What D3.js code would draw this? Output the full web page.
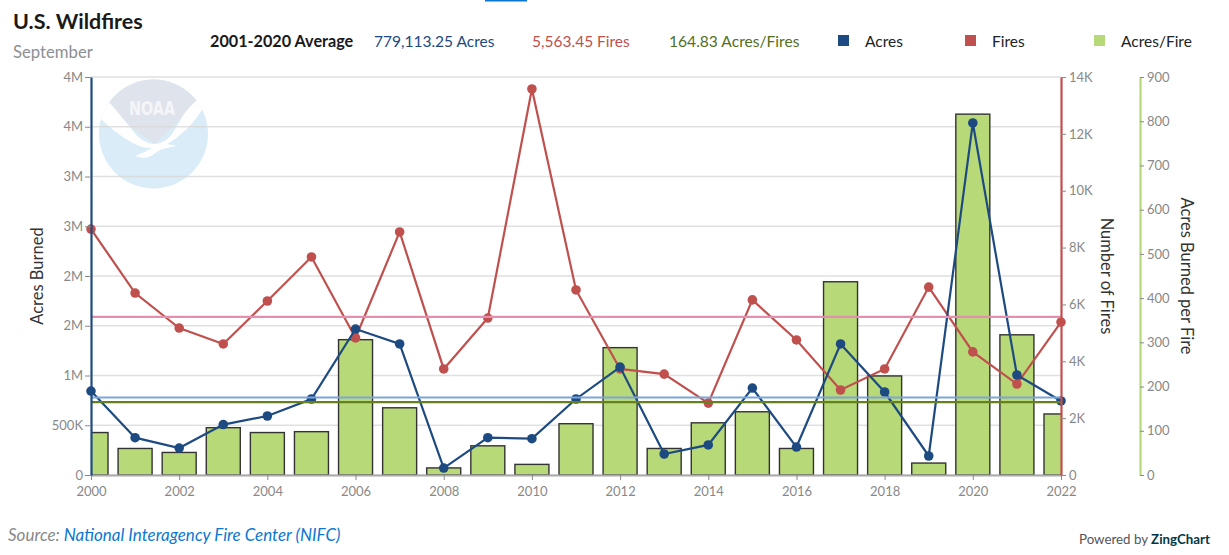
<!DOCTYPE html>
<html>
<head>
<meta charset="utf-8">
<script src="https://cdn.jsdelivr.net/npm/d3@7"></script>
<style>
  html, body { margin: 0; padding: 0; background: #fff; overflow: hidden; }
  svg { display: block; }
  text { font-family: Lato, "Noto Sans", sans-serif; }
</style>
</head>
<body>
<div id="chart"></div>
<script>
const years = d3.range(2000, 2023);
const acres = [844000, 375000, 271000, 507000, 593000, 764000, 1467000, 1317000, 70000, 375000, 365000, 764000,
    1085000, 211000, 302000, 874000, 281000, 1317000, 834000, 191000, 3538000, 1005000, 744000];
const fires = [8650, 6400, 5170, 4610, 6120, 7670, 4820, 8550, 3730, 5520, 13580, 6510,
    3730, 3550, 2530, 6160, 4750, 2990, 3730, 6610, 4330, 3200, 5380];
const acresPerFire = [96, 60, 51, 107, 96, 98, 306, 152, 16, 66, 24, 116,
    288, 60, 118, 143, 60, 437, 224, 27, 816, 317, 138];

const avgAcres = 779113.25;
const avgFires = 5563.45;
const avgAcresPerFire = 164.83;

const acresTicks = [0, 500000, 1000000, 1500000, 2000000, 2500000, 3000000, 3500000, 4000000];
const acresTickLabels = ["0", "500K", "1M", "2M", "2M", "3M", "3M", "4M", "4M"];
const firesTicks = [0, 2000, 4000, 6000, 8000, 10000, 12000, 14000];
const firesTickLabels = ["0", "2K", "4K", "6K", "8K", "10K", "12K", "14K"];
const ratioTicks = [0, 100, 200, 300, 400, 500, 600, 700, 800, 900];
const yearTicks = d3.range(2000, 2023, 2);

const blue = "#1d4a80", red = "#c0504d", green = "#b8d97a", grey = "#888";
const width = 1229, height = 555;
const margin = { top: 77, right: 168, bottom: 80, left: 91 };
const plotW = width - margin.left - margin.right;
const plotH = height - margin.top - margin.bottom;

const svg = d3.select("#chart").append("svg").attr("width", width).attr("height", height);

svg.append("rect").attr("x", 485).attr("y", 0).attr("width", 42).attr("height", 1.5).attr("fill", "#0a78d2");

// Escalas
const x = d3.scaleLinear().domain([2000, 2022]).range([0, plotW]);
const yAcres = d3.scaleLinear().domain([0, 4000000]).range([plotH, 0]);
const yFires = d3.scaleLinear().domain([0, 14000]).range([plotH, 0]);
const yRatio = d3.scaleLinear().domain([0, 900]).range([plotH, 0]);

const defs = svg.append("defs");
defs.append("clipPath").attr("id", "plotClip").append("rect")
    .attr("width", plotW).attr("height", plotH);
defs.append("clipPath").attr("id", "logoClip").append("circle")
    .attr("cx", 153.5).attr("cy", 134).attr("r", 54.5);

// Logo de fondo
const logo = svg.append("g").attr("clip-path", "url(#logoClip)");
logo.append("rect").attr("x", 95).attr("y", 75).attr("width", 120).attr("height", 120).attr("fill", "#d9ecf7");
logo.append("path").attr("fill", "#dfe3ec")
    .attr("d", "M109,102 L130,127 L155,144 L182,117 L196,101 L200,75 L105,75 Z");
logo.append("path").attr("fill", "#fff")
    .attr("d", "M109,102 C118,112 124,120 130,127 C137,137 145,144 155,144 C168,144 175,130 182,117 C187,110 191,105 196,101 L215,95 L202,110 C195,120 190,127 182,133 C177,138 172,141 167,144 L177,146 C170,147 165,148 160,150 C155,153 150,158 143,158 L135,156 C140,154 147,151 152,148 C145,148 142,147 137,145 C128,141 113,131 101,119 L90,95 Z");
svg.append("text").attr("x", 152).attr("y", 115).attr("text-anchor", "middle")
    .attr("font-size", 19).attr("font-weight", 700).attr("fill", "#f4f5f8")
    .style("font-family", "'DejaVu Sans', sans-serif")
    .attr("textLength", 46).attr("lengthAdjust", "spacingAndGlyphs").text("NOAA");

const g = svg.append("g").attr("transform", `translate(${margin.left},${margin.top})`);

// Rejilla
g.append("g").selectAll("line").data(acresTicks).enter().append("line")
    .attr("x1", 0).attr("x2", plotW)
    .attr("y1", d => yAcres(d)).attr("y2", d => yAcres(d))
    .attr("stroke", "#d8d8d8").attr("stroke-opacity", 0.8).attr("stroke-width", 1.3);

// Barras
const barW = 34;
g.append("g").attr("clip-path", "url(#plotClip)").selectAll("rect")
    .data(acresPerFire).enter().append("rect")
    .attr("x", (d, i) => x(years[i]) - barW / 2)
    .attr("y", d => yRatio(d))
    .attr("width", barW)
    .attr("height", d => plotH - yRatio(d))
    .attr("fill", "#b8d977")
    .attr("stroke", "#333")
    .attr("stroke-width", 1.4);

function drawSeries(values, yScale, color) {
    const line = d3.line().x((d, i) => x(years[i])).y(d => yScale(d));
    g.append("path").attr("d", line(values)).attr("fill", "none")
        .attr("stroke", color).attr("stroke-width", 2.2);
    g.append("g").selectAll("circle").data(values).enter().append("circle")
        .attr("cx", (d, i) => x(years[i])).attr("cy", d => yScale(d))
        .attr("r", 4.8).attr("fill", color);
}

// Ejes
function styleAxis(sel, color) {
    sel.select(".domain").attr("stroke", color).attr("stroke-width", 2.2);
    sel.selectAll(".tick line").attr("stroke", grey);
    sel.selectAll(".tick text").attr("fill", grey).attr("font-size", 13)
        .style("font-family", "Lato, sans-serif");
}

const axisX = g.append("g").attr("transform", `translate(0,${plotH})`)
    .call(d3.axisBottom(x).tickValues(yearTicks).tickFormat(d3.format("d")).tickSize(5).tickSizeOuter(0).tickPadding(7));
styleAxis(axisX, "#aaa");

drawSeries(fires, yFires, red);
drawSeries(acres, yAcres, blue);

// Líneas de promedio
const averages = [
    { y: yFires(avgFires), color: "#e48fb0" },
    { y: yRatio(avgAcresPerFire), color: "#64801f" },
    { y: yAcres(avgAcres), color: "#7ba6dc" }
];
g.append("g").selectAll("line").data(averages).enter().append("line")
    .attr("x1", 0).attr("x2", plotW)
    .attr("y1", d => d.y).attr("y2", d => d.y)
    .attr("stroke", d => d.color).attr("stroke-width", 2.2);

const axisL = g.append("g")
    .call(d3.axisLeft(yAcres).tickValues(acresTicks).tickFormat((d, i) => acresTickLabels[i]).tickSize(6).tickSizeOuter(0).tickPadding(2));
styleAxis(axisL, blue);

const axisR = g.append("g").attr("transform", `translate(${plotW},0)`)
    .call(d3.axisRight(yFires).tickValues(firesTicks).tickFormat((d, i) => firesTickLabels[i]).tickSize(5).tickSizeOuter(0).tickPadding(3));
styleAxis(axisR, red);

const axisR2 = g.append("g").attr("transform", `translate(${plotW + 79},0)`)
    .call(d3.axisRight(yRatio).tickValues(ratioTicks).tickSize(4).tickSizeOuter(0).tickPadding(3));
styleAxis(axisR2, green);

// Títulos de ejes
function axisTitle(label, tx, rot) {
    svg.append("text")
        .attr("transform", `translate(${tx},276) rotate(${rot})`)
        .attr("text-anchor", "middle")
        .attr("font-size", 16.5)
        .attr("fill", "#333")
        .text(label);
}
axisTitle("Acres Burned", 43, -90);
axisTitle("Number of Fires", 1101, 90);
axisTitle("Acres Burned per Fire", 1181, 90);

// Título y subtítulo
svg.append("text").attr("x", 13).attr("y", 29).attr("font-size", 21.5).attr("font-weight", 700)
    .attr("fill", "#1a1a1a").text("U.S. Wildfires");
svg.append("text").attr("x", 13).attr("y", 58).attr("font-size", 16.7)
    .attr("fill", "#8c8f94").text("September");

// Promedios de cabecera
const header = [
    { label: "2001-2020 Average", px: 210, color: "#1a1a1a", weight: 700, size: 16.2 },
    { label: "779,113.25 Acres", px: 374, color: blue, weight: 400, size: 15.5 },
    { label: "5,563.45 Fires", px: 532, color: red, weight: 400, size: 15.5 },
    { label: "164.83 Acres/Fires", px: 669, color: "#53701a", weight: 400, size: 15.6 }
];
svg.append("g").selectAll("text").data(header).enter().append("text")
    .attr("x", d => d.px).attr("y", 47)
    .attr("font-size", d => d.size).attr("font-weight", d => d.weight).attr("fill", d => d.color)
    .text(d => d.label);

// Leyenda
const legend = [
    { label: "Acres", px: 838, color: blue },
    { label: "Fires", px: 965, color: red },
    { label: "Acres/Fire", px: 1094, color: green }
];
const legendItem = svg.append("g").selectAll("g").data(legend).enter().append("g")
    .attr("transform", d => `translate(${d.px},35)`);
legendItem.append("rect").attr("width", 11).attr("height", 11).attr("fill", d => d.color);
legendItem.append("text").attr("x", 27).attr("y", 12).attr("font-size", 15.5).attr("fill", "#222").text(d => d.label);

// Pie
const source = svg.append("text").attr("x", 8).attr("y", 541).attr("font-size", 17).attr("font-style", "italic");
source.append("tspan").attr("fill", grey).text("Source: ");
source.append("tspan").attr("fill", "#0a78d2").text("National Interagency Fire Center (NIFC)");

const powered = svg.append("text").attr("x", 1079).attr("y", 544).attr("font-size", 13.3);
powered.append("tspan").attr("fill", "#555").text("Powered by ");
powered.append("tspan").attr("fill", "#003849").attr("font-weight", 700).text("ZingChart");
</script>
</body>
</html>
